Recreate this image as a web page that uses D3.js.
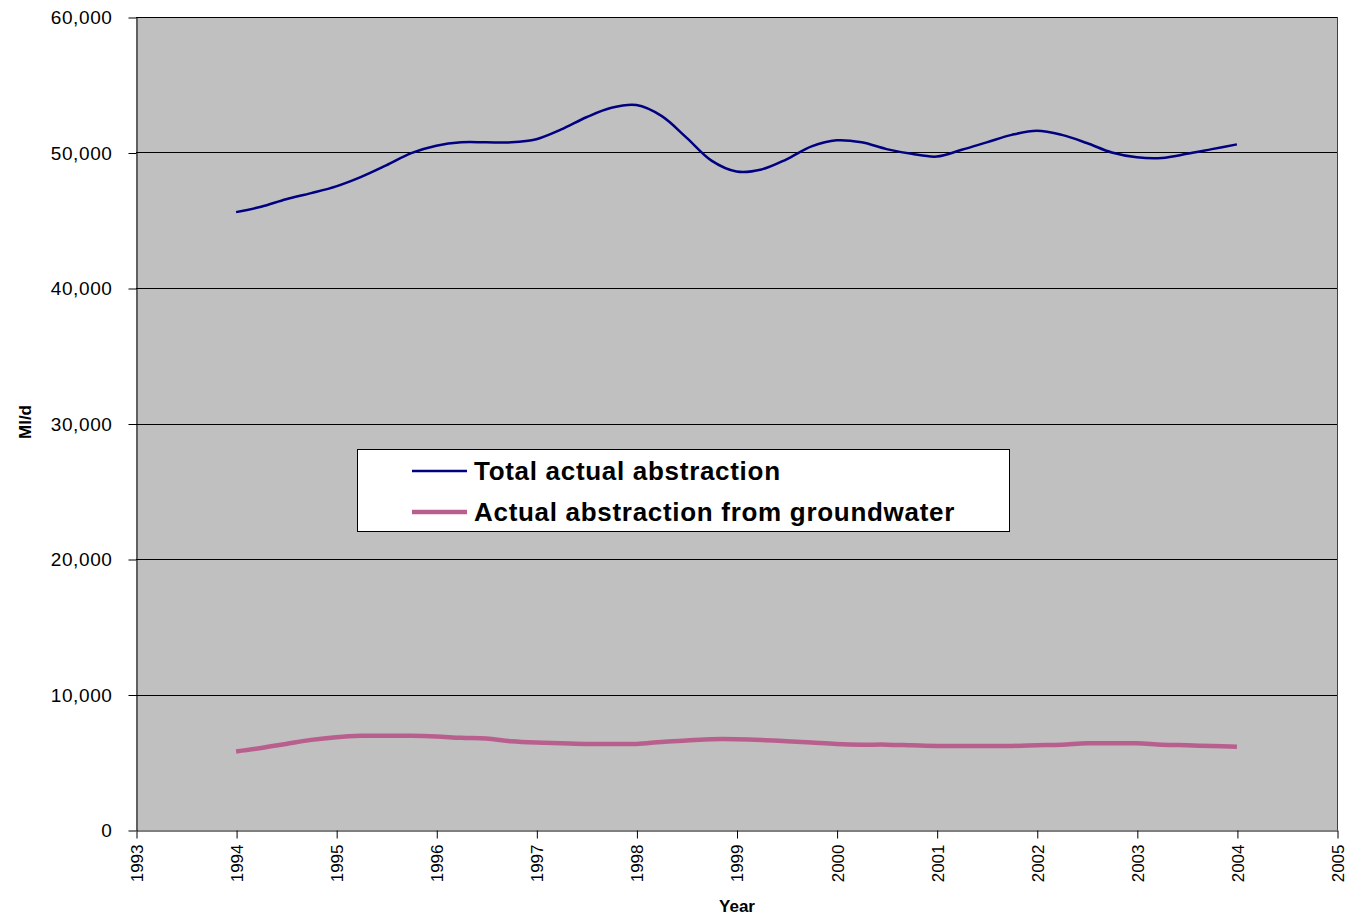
<!DOCTYPE html>
<html>
<head>
<meta charset="utf-8">
<script src="https://cdn.jsdelivr.net/npm/d3@7"></script>
<style>
  html, body { margin: 0; padding: 0; background: #ffffff; }
  svg { display: block; font-family: Arial, "Liberation Sans", sans-serif; }
</style>
</head>
<body>
<svg id="chart" width="1348" height="917"></svg>
<script>
// Quarterly time points (decimal years)
const quarters = [
  1994.00, 1994.25, 1994.50, 1994.75, 1995.00, 1995.25, 1995.50, 1995.75,
  1996.00, 1996.25, 1996.50, 1996.75, 1997.00, 1997.25, 1997.50, 1997.75,
  1998.00, 1998.25, 1998.50, 1998.75, 1999.00, 1999.25, 1999.50, 1999.75,
  2000.00, 2000.25, 2000.50, 2000.75, 2001.00, 2001.25, 2001.50, 2001.75,
  2002.00, 2002.25, 2002.50, 2002.75, 2003.00, 2003.25, 2003.50, 2003.75,
  2004.00
];

// Total actual abstraction, Ml/d
const totalAbstraction = [
  45600, 46000, 46550, 47000, 47500, 48200, 49050, 49950,
  50500, 50750, 50750, 50750, 50980, 51700, 52600, 53300,
  53500, 52700, 51100, 49400, 48600, 48750, 49500, 50450,
  50900, 50750, 50250, 49900, 49700, 50200, 50750, 51300,
  51600, 51300, 50700, 50000, 49650, 49600, 49900, 50250,
  50600
];

// Actual abstraction from groundwater, Ml/d
const groundwaterAbstraction = [
  5800, 6050, 6350, 6650, 6850, 6950, 6950, 6950,
  6900, 6800, 6750, 6550, 6450, 6400, 6350, 6350,
  6350, 6500, 6600, 6700, 6700, 6650, 6550, 6450,
  6350, 6300, 6300, 6250, 6200, 6200, 6200, 6200,
  6250, 6300, 6400, 6400, 6400, 6300, 6250, 6200,
  6150
];

const seriesNames = ["Total actual abstraction", "Actual abstraction from groundwater"];
const xTickYears = d3.range(1993, 2006);
const yTickValues = d3.range(0, 60001, 10000);

const svg = d3.select("#chart");
const plotLeft = 136, plotRight = 1337, plotTop = 17, plotBottom = 830;

const x = d3.scaleLinear().domain([1993, 2005]).range([plotLeft, plotRight]);
const y = d3.scaleLinear().domain([0, 60000]).range([plotBottom, plotTop]);

// Plot area
svg.append("rect")
  .attr("x", plotLeft).attr("y", plotTop)
  .attr("width", plotRight - plotLeft).attr("height", plotBottom - plotTop)
  .attr("fill", "#c0c0c0");

// Horizontal gridlines
svg.append("g")
  .selectAll("line")
  .data(yTickValues.filter(v => v > 0))
  .join("line")
  .attr("x1", plotLeft).attr("x2", plotRight)
  .attr("y1", d => Math.round(y(d)) + 0.5).attr("y2", d => Math.round(y(d)) + 0.5)
  .attr("stroke", "#000").attr("stroke-width", 1);

// Right border of plot area
svg.append("line")
  .attr("x1", plotRight + 0.5).attr("x2", plotRight + 0.5)
  .attr("y1", plotTop).attr("y2", plotBottom)
  .attr("stroke", "#404040").attr("stroke-width", 1);

// Y axis
const yAxis = d3.axisLeft(y)
  .tickValues(yTickValues)
  .tickFormat(d3.format(","))
  .tickSizeInner(8).tickSizeOuter(0).tickPadding(16);
const gy = svg.append("g")
  .attr("transform", `translate(${plotLeft + 0.5},0.5)`)
  .call(yAxis);
gy.select(".domain").attr("stroke", "#000");
gy.selectAll(".tick line").attr("stroke", "#000");
gy.selectAll(".tick text")
  .attr("font-size", 19).attr("fill", "#000")
  .attr("letter-spacing", 0.6)
  .attr("font-family", "Arial, 'Liberation Sans', sans-serif");

// X axis
const xAxis = d3.axisBottom(x)
  .tickValues(xTickYears)
  .tickFormat(d3.format("d"))
  .tickSizeInner(8).tickSizeOuter(0);
const gx = svg.append("g")
  .attr("transform", `translate(0.5,${plotBottom + 0.5})`)
  .call(xAxis);
gx.select(".domain").attr("stroke", "#000");
gx.selectAll(".tick line").attr("stroke", "#000");
gx.selectAll(".tick text")
  .attr("font-size", 17).attr("fill", "#000")
  .attr("font-family", "Arial, 'Liberation Sans', sans-serif")
  .attr("transform", "rotate(-90)")
  .attr("text-anchor", "end")
  .attr("x", -14).attr("y", 0).attr("dy", "0.35em");

// Axis titles
svg.append("text")
  .attr("x", 737).attr("y", 912)
  .attr("text-anchor", "middle")
  .attr("font-size", 17).attr("font-weight", "bold")
  .text("Year");
svg.append("text")
  .attr("transform", "translate(31,422) rotate(-90)")
  .attr("text-anchor", "middle")
  .attr("font-size", 17).attr("font-weight", "bold")
  .text("Ml/d");

// Smoothed series lines
const line = d3.line()
  .x((d, i) => x(quarters[i]))
  .y(d => y(d))
  .curve(d3.curveCatmullRom.alpha(0.5));

const colors = ["#000080", "#b95f8e"];
const widths = [2.5, 4.5];

svg.append("path")
  .datum(groundwaterAbstraction)
  .attr("d", line)
  .attr("fill", "none")
  .attr("stroke", colors[1]).attr("stroke-width", widths[1]);

svg.append("path")
  .datum(totalAbstraction)
  .attr("d", line)
  .attr("fill", "none")
  .attr("stroke", colors[0]).attr("stroke-width", widths[0]);

// Legend
const legend = svg.append("g");
legend.append("rect")
  .attr("x", 357.5).attr("y", 449.5)
  .attr("width", 652).attr("height", 82)
  .attr("fill", "#fff").attr("stroke", "#000").attr("stroke-width", 1);

const legendRows = legend.selectAll("g.row")
  .data(seriesNames)
  .join("g")
  .attr("class", "row")
  .attr("transform", (d, i) => `translate(0,${471 + i * 41})`);
legendRows.append("line")
  .attr("x1", 412).attr("x2", 467)
  .attr("y1", 0).attr("y2", 0)
  .attr("stroke", (d, i) => colors[i])
  .attr("stroke-width", (d, i) => widths[i]);
legendRows.append("text")
  .attr("x", 474).attr("y", 0).attr("dy", "0.35em")
  .attr("font-size", 26).attr("font-weight", "bold")
  .attr("letter-spacing", 0.7)
  .text(d => d);
</script>
</body>
</html>
